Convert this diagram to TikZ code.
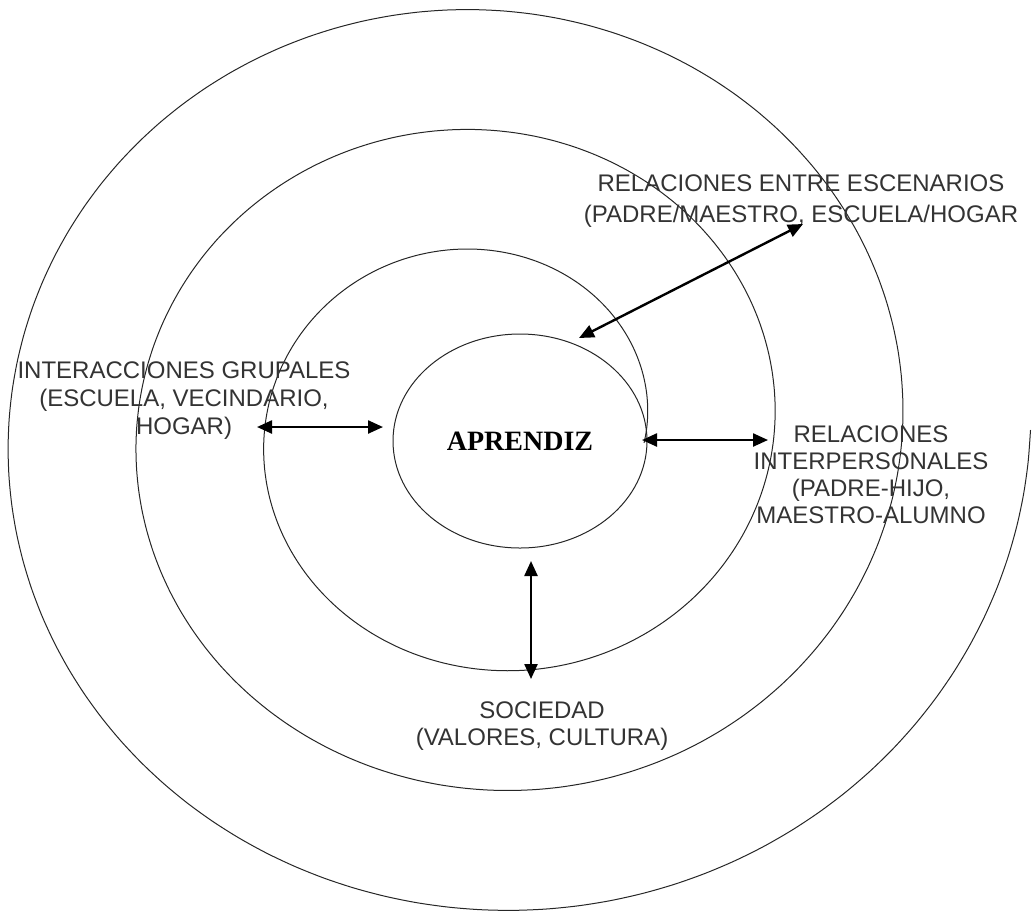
\documentclass[tikz,border=0pt]{standalone}
\usepackage{fontspec}
\setmainfont{Liberation Sans}
\newfontfamily\serifbold{Liberation Serif}
\usetikzlibrary{arrows.meta,shapes.geometric}
\tikzset{ring/.style = {line width=1pt,draw=black!85},
         flecha/.style = {line width=2.4pt,{Triangle[length=15pt,width=13pt]}-{Triangle[length=15pt,width=13pt]}},
         etiqueta/.style = {align=center,inner sep=0pt,anchor=north,text=black!80,font=\fontsize{24}{28}\selectfont}}

\begin{document}
\begin{tikzpicture}[x=1pt,y=-1pt]
    \useasboundingbox (0,0) rectangle (1032,911);

    % espiral
    \draw[ring] plot [smooth,domain=0:1085,samples=300,variable=\t]
        ({487.5+(543-0.3556*\t)*cos(\t)},{430+(510-\t/3)*sin(\t)});

    \node[ring,ellipse,minimum width=254pt,minimum height=214pt,
          font=\serifbold\bfseries\fontsize{28}{30}\selectfont] (aprendiz) at (520,441) {APRENDIZ};

    \node[etiqueta,font=\fontsize{24}{31}\selectfont] (escenarios) at (801,175)
        {RELACIONES ENTRE ESCENARIOS\\(PADRE/MAESTRO, ESCUELA/HOGAR};
    \node[etiqueta] (grupales) at (184,362)
        {INTERACCIONES GRUPALES\\(ESCUELA, VECINDARIO,\\HOGAR)};
    \node[etiqueta,font=\fontsize{24}{27}\selectfont] (interpersonales) at (871,426)
        {RELACIONES\\INTERPERSONALES\\(PADRE-HIJO,\\MAESTRO-ALUMNO};
    \node[etiqueta,font=\fontsize{24}{27}\selectfont] (sociedad) at (542,702)
        {SOCIEDAD\\(VALORES, CULTURA)};

    \coordinate (e1) at (579,338);
    \coordinate (e2) at (803,224);
    \coordinate (g1) at (257,427);
    \coordinate (g2) at (383,427);
    \coordinate (i1) at (642,440);
    \coordinate (i2) at (768,440);
    \coordinate (s1) at (531,561);
    \coordinate (s2) at (531,679);

    \draw[flecha] (e1) -- (e2);
    \draw[flecha] (g1) -- (g2);
    \draw[flecha] (i1) -- (i2);
    \draw[flecha] (s1) -- (s2);
\end{tikzpicture}
\end{document}
